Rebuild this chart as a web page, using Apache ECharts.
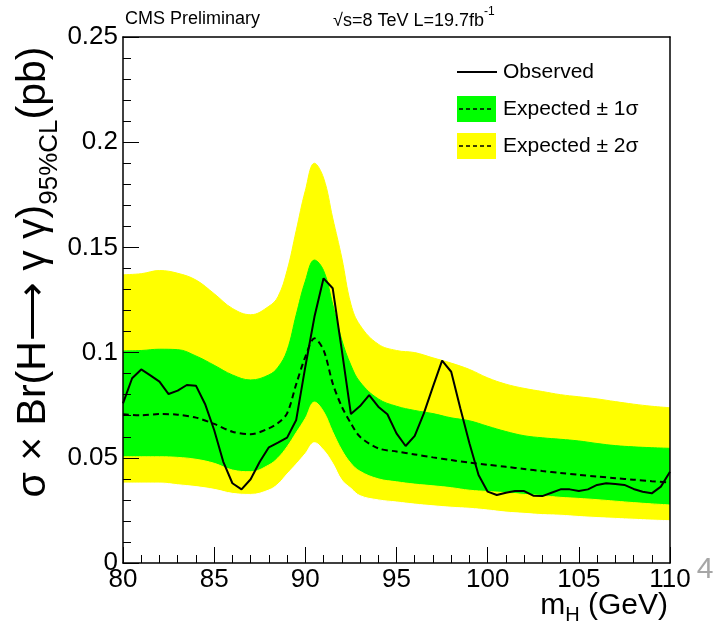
<!DOCTYPE html>
<html>
<head>
<meta charset="utf-8">
<script src="https://cdn.jsdelivr.net/npm/echarts@6/dist/echarts.min.js"></script>
<style>
html,body{margin:0;padding:0;background:#fff;}
#c{width:713px;height:629px;}
</style>
</head>
<body>
<div id="c"></div>
<script>
// ---- data ----
const bandX    = [80,81,82,83,84,85,86,87,88,88.5,89,89.5,90,90.5,91,91.5,92,92.5,93,94,95,96,97,98,99,100,101,102,103,104,105,106,107,108,109,110];
const yellowUp = [0.137,0.1375,0.139,0.1377,0.1345,0.128,0.121,0.118,0.122,0.1266,0.139,0.158,0.177,0.19,0.183,0.164,0.145,0.123,0.113,0.104,0.101,0.100,0.0975,0.095,0.092,0.088,0.085,0.083,0.0815,0.080,0.079,0.078,0.0767,0.0755,0.0745,0.0738];
const greenUp  = [0.1008,0.101,0.1016,0.1014,0.0984,0.094,0.0894,0.087,0.0894,0.093,0.101,0.118,0.134,0.144,0.139,0.123,0.106,0.094,0.086,0.078,0.0745,0.0725,0.071,0.069,0.0676,0.065,0.0625,0.0605,0.0595,0.0588,0.058,0.0568,0.0558,0.0552,0.0548,0.0545];
const expected = [0.0707,0.0702,0.0708,0.0705,0.0691,0.0661,0.0624,0.0612,0.064,0.0665,0.0711,0.085,0.098,0.1068,0.1012,0.0854,0.0743,0.0664,0.060,0.0545,0.053,0.0516,0.0502,0.0489,0.0477,0.0467,0.0457,0.0447,0.0437,0.0428,0.0419,0.0411,0.0403,0.0396,0.0389,0.0383];
const greenLo  = [0.0505,0.0505,0.0505,0.0502,0.0493,0.0474,0.0442,0.0434,0.0466,0.050,0.0553,0.062,0.0688,0.0765,0.072,0.0624,0.0537,0.0474,0.0436,0.040,0.0386,0.0375,0.0367,0.0358,0.0346,0.034,0.0334,0.0326,0.032,0.0312,0.0307,0.0301,0.0294,0.0287,0.0281,0.0276];
const yellowLo = [0.038,0.038,0.038,0.0372,0.0363,0.035,0.0331,0.0326,0.0347,0.0375,0.0423,0.047,0.052,0.0572,0.0537,0.0474,0.0394,0.0355,0.032,0.030,0.029,0.028,0.0272,0.0265,0.026,0.0252,0.0242,0.0236,0.023,0.0227,0.0221,0.0216,0.0212,0.0208,0.0204,0.0201];

const obsX = [80,80.5,81,81.5,82,82.5,83,83.5,84,84.5,85,85.5,86,86.5,87,87.5,88,88.5,89,89.5,90,90.5,91,91.5,92,92.5,93,93.5,94,94.5,95,95.5,96,96.5,97,97.5,98,98.5,99,99.5,100,100.5,101,101.5,102,102.5,103,103.5,104,104.5,105,105.5,106,106.5,107,107.5,108,108.5,109,109.5,110];
const observed = [0.0759,0.0878,0.092,0.0892,0.0862,0.0803,0.0819,0.0846,0.0843,0.0756,0.0632,0.0481,0.0379,0.035,0.0398,0.0481,0.055,0.0572,0.0596,0.068,0.0933,0.117,0.1353,0.1306,0.1012,0.0708,0.0746,0.0798,0.0743,0.0707,0.0616,0.0556,0.0604,0.0711,0.0838,0.0962,0.0909,0.0735,0.0569,0.0418,0.0339,0.0323,0.0334,0.0342,0.0342,0.032,0.0318,0.0334,0.035,0.035,0.0342,0.035,0.0371,0.0379,0.0375,0.0371,0.0352,0.0339,0.0331,0.0363,0.0434];

const xRange = [80, 110], xStep = 5;
const yRange = [0, 0.25], yStep = 0.05;
const legendNames = ['Observed', 'Expected \u00b1 1\u03c3', 'Expected \u00b1 2\u03c3'];

// ---- chart ----
const FONT = 'Liberation Sans, Arial, sans-serif';
const YEL = '#ffff00', GRN = '#00ff00';
const chart = echarts.init(document.getElementById('c'), null, {renderer: 'canvas'});

const pairs = (xs, ys) => xs.map((x, i) => [x, ys[i]]);

// band layers painted from the outermost edge inward (each filled down to the axis)
const layer = (name, ys, color) => ({
  name: name, type: 'line', data: pairs(bandX, ys), symbol: 'none',
  smooth: 0.4, silent: true, z: 1,
  lineStyle: {color: color, width: 1}, itemStyle: {color: color},
  areaStyle: {color: color, opacity: 1}
});

const axisCommon = {
  type: 'value', z: 10,
  splitLine: {show: false}, minorSplitLine: {show: false}
};

const LEG_X = 457, LEG_Y = [72, 109, 146];

chart.setOption({
  animation: false,
  backgroundColor: '#fff',
  grid: {left: 123, right: 43, top: 37, bottom: 66, containLabel: false},
  xAxis: [
    Object.assign({}, axisCommon, {
      min: xRange[0], max: xRange[1], interval: xStep, position: 'bottom',
      axisLine: {show: true, onZero: false, lineStyle: {color: '#000', width: 1.5}},
      axisTick: {show: true, inside: true, length: 16, lineStyle: {color: '#000', width: 1}},
      minorTick: {show: true, splitNumber: 5, length: 8, lineStyle: {color: '#000', width: 1}},
      axisLabel: {color: '#000', fontSize: 26, fontFamily: FONT, margin: 4}
    }),
    Object.assign({}, axisCommon, {
      min: xRange[0], max: xRange[1], position: 'top',
      axisLine: {show: true, onZero: false, lineStyle: {color: '#000', width: 1.5}},
      axisTick: {show: false}, axisLabel: {show: false}
    })
  ],
  yAxis: [
    Object.assign({}, axisCommon, {
      min: yRange[0], max: yRange[1], interval: yStep, position: 'left',
      axisLine: {show: true, onZero: false, lineStyle: {color: '#000', width: 1.5}},
      axisTick: {show: true, inside: true, length: 16, lineStyle: {color: '#000', width: 1}},
      minorTick: {show: true, splitNumber: 5, length: 8, lineStyle: {color: '#000', width: 1}},
      axisLabel: {color: '#000', fontSize: 26, fontFamily: FONT, margin: 5}
    }),
    Object.assign({}, axisCommon, {
      min: yRange[0], max: yRange[1], position: 'right',
      axisLine: {show: true, onZero: false, lineStyle: {color: '#000', width: 1.5}},
      axisTick: {show: false}, axisLabel: {show: false}
    })
  ],
  series: [
    layer('yellowUp', yellowUp, YEL),
    layer('greenUp', greenUp, GRN),
    layer('greenLo', greenLo, YEL),
    layer('yellowLo', yellowLo, '#ffffff'),
    {
      name: 'Expected', type: 'line', data: pairs(bandX, expected), symbol: 'none',
      smooth: 0.3, silent: true, z: 3,
      lineStyle: {color: '#000', width: 2, type: [6, 4]}, itemStyle: {color: '#000'}
    },
    {
      name: 'Observed', type: 'line', data: pairs(obsX, observed), symbol: 'none', silent: true, z: 4,
      lineStyle: {color: '#000', width: 2}, itemStyle: {color: '#000'}
    }
  ],
  graphic: [
    {type: 'text', left: 125, top: 10, style: {text: 'CMS Preliminary', fontSize: 18, fontFamily: FONT, fill: '#000'}},
    {type: 'text', left: 333, top: 6, style: {
      text: '{r|\u221as=8 TeV L=19.7fb}{p|-1}', fill: '#000',
      rich: {
        r: {fontSize: 18, fontFamily: FONT, lineHeight: 24, verticalAlign: 'bottom'},
        p: {fontSize: 12, fontFamily: FONT, lineHeight: 14, verticalAlign: 'top'}
      }
    }},
    {type: 'text', x: 38, y: 272, rotation: Math.PI / 2, style: {
      text: '{m|\u03c3 \u00d7 Br(H\u27f6 \u03b3 \u03b3)}{s|95%CL}{m|(pb)}', align: 'center', verticalAlign: 'middle', fill: '#000',
      rich: {
        m: {fontSize: 41, fontFamily: FONT, lineHeight: 49, verticalAlign: 'top'},
        s: {fontSize: 26, fontFamily: FONT, lineHeight: 26, verticalAlign: 'bottom'}
      }
    }},
    {type: 'text', x: 668, y: 608, style: {
      text: '{m|m}{s|H}{m| (GeV)}', align: 'right', verticalAlign: 'middle', fill: '#000',
      rich: {
        m: {fontSize: 30, fontFamily: FONT, lineHeight: 34, verticalAlign: 'top'},
        s: {fontSize: 20, fontFamily: FONT, lineHeight: 20, verticalAlign: 'bottom'}
      }
    }},
    {type: 'text', x: 705, y: 570, style: {text: '4', fontSize: 30, fontFamily: FONT, fill: '#a6a6a6', align: 'center', verticalAlign: 'middle'}},
    // legend
    {type: 'line', shape: {x1: LEG_X, y1: LEG_Y[0], x2: LEG_X + 40, y2: LEG_Y[0]}, style: {stroke: '#000', lineWidth: 2}, z: 100},
    {type: 'rect', shape: {x: LEG_X, y: LEG_Y[1] - 13, width: 39, height: 26}, style: {fill: GRN}, z: 100},
    {type: 'rect', shape: {x: LEG_X, y: LEG_Y[2] - 13, width: 39, height: 26}, style: {fill: YEL}, z: 100},
    {type: 'line', shape: {x1: LEG_X + 2, y1: LEG_Y[1], x2: LEG_X + 37, y2: LEG_Y[1]}, style: {stroke: '#000', lineWidth: 1.5, lineDash: [4, 3]}, z: 101},
    {type: 'line', shape: {x1: LEG_X + 2, y1: LEG_Y[2], x2: LEG_X + 37, y2: LEG_Y[2]}, style: {stroke: '#000', lineWidth: 1.5, lineDash: [4, 3]}, z: 101},
    {type: 'text', x: LEG_X + 46, y: LEG_Y[0], style: {text: legendNames[0], fontSize: 21, fontFamily: FONT, fill: '#000', verticalAlign: 'middle'}, z: 100},
    {type: 'text', x: LEG_X + 46, y: LEG_Y[1], style: {text: legendNames[1], fontSize: 21, fontFamily: FONT, fill: '#000', verticalAlign: 'middle'}, z: 100},
    {type: 'text', x: LEG_X + 46, y: LEG_Y[2], style: {text: legendNames[2], fontSize: 21, fontFamily: FONT, fill: '#000', verticalAlign: 'middle'}, z: 100}
  ]
});
</script>
</body>
</html>
